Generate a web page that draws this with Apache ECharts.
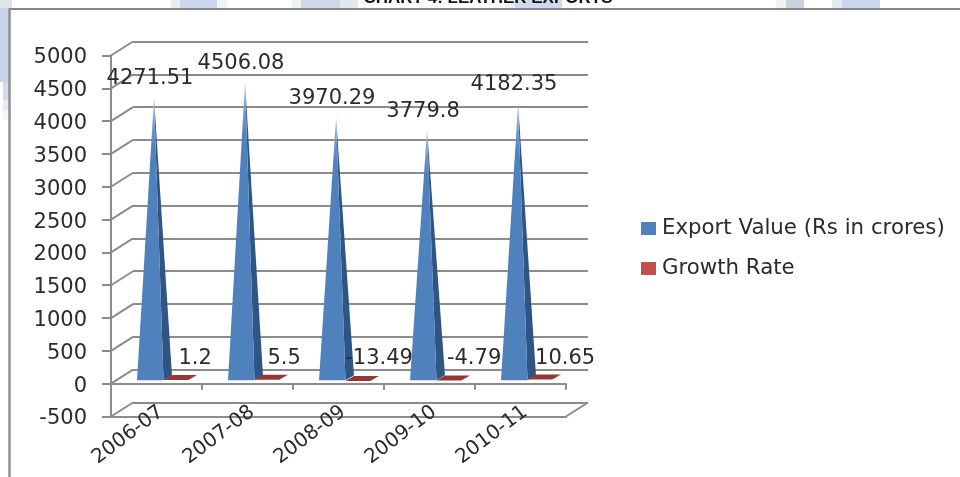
<!DOCTYPE html>
<html>
<head>
<meta charset="utf-8">
<title>Chart 4: Leather Exports</title>
<style>
  html, body { margin: 0; padding: 0; background: #fff; }
  #chart { width: 960px; height: 477px; }
</style>
<script src="https://cdn.jsdelivr.net/npm/echarts@6/dist/echarts.min.js"></script>
</head>
<body>
<div id="chart"></div>
<script>
// Leather export figures by financial year
const years = ['2006-07', '2007-08', '2008-09', '2009-10', '2010-11'];
const exportValue = [4271.51, 4506.08, 3970.29, 3779.8, 4182.35];
const growthRate = [1.2, 5.5, -13.49, -4.79, 10.65];
const exportLabels = ['4271.51', '4506.08', '3970.29', '3779.8', '4182.35'];
const growthLabels = ['1.2', '5.5', '-13.49', '-4.79', '10.65'];
const valueTicks = [-500, 0, 500, 1000, 1500, 2000, 2500, 3000, 3500, 4000, 4500, 5000];

// Horizontal placement tweaks for the growth labels, in pixels
const growthLabelNudge = [-6, -8, -4, 0, 0];

// Oblique depth of the 3D box, in pixels
const DEPTH_X = 22;
const DEPTH_Y = 14;
const AXIS_GREY = '#8c8c8c';
const AXIS_WIDTH = 2;
const TEXT = '#2b2b2b';
const FONT = '"DejaVu Sans", sans-serif';
const FONT_SIZE = 21;
const BLUE = '#4f81bd';
const BLUE_SIDE = '#2f5585';
const RED = '#c0504d';
const RED_TOP = '#953735';

const chart = echarts.init(document.getElementById('chart'), null, { renderer: 'canvas' });

const frontGrid = { left: 111, top: 55.5, width: 455, height: 361 };
const backGrid = {
  left: frontGrid.left + DEPTH_X,
  top: frontGrid.top - DEPTH_Y,
  width: frontGrid.width,
  height: frontGrid.height
};

// Pale page decoration showing around the frame
function paleBlock(x, y, w, h, fill) {
  return { type: 'rect', silent: true, z: -10, shape: { x, y, width: w, height: h }, style: { fill } };
}
const decoration = [
  paleBlock(0, 0, 12, 8, '#dde5ea'),
  paleBlock(0, 8, 9, 74, '#c9d6ea'),
  paleBlock(3, 82, 6, 18, '#cfdcec'),
  paleBlock(3, 100, 6, 10, '#e3ebf0'),
  paleBlock(3, 110, 6, 9, '#f2f7f4'),
  paleBlock(171, 0, 9, 8, '#e8eef0'),
  paleBlock(180, 0, 37, 8, '#c9d8ee'),
  paleBlock(217, 0, 10, 8, '#eef4f0'),
  paleBlock(292, 0, 9, 8, '#eef3f3'),
  paleBlock(301, 0, 39, 8, '#cdd8ea'),
  paleBlock(340, 0, 18, 8, '#e2e9ec'),
  paleBlock(505, 0, 10, 8, '#eaeef5'),
  paleBlock(515, 0, 47, 8, '#cfdaf0'),
  paleBlock(776, 0, 10, 8, '#eef4f2'),
  paleBlock(786, 0, 18, 8, '#c9d3e0'),
  paleBlock(832, 0, 10, 8, '#e3eaf2'),
  paleBlock(842, 0, 38, 8, '#c9d8ee')
];

// Outer frame of the embedded chart
const frame = [
  { type: 'line', silent: true, z: 1, shape: { x1: 9, y1: 9, x2: 960, y2: 9 }, style: { stroke: '#858585', lineWidth: 2 } },
  { type: 'line', silent: true, z: 1, shape: { x1: 9.5, y1: 8, x2: 9.5, y2: 477 }, style: { stroke: '#8f8f8f', lineWidth: 2.5 } }
];

// Slanted edges joining the front axis to the back wall, one per value tick
function renderDepthEdges(params, api) {
  const p = api.coord([0, api.value(0)]);
  const x = params.coordSys.x;
  return {
    type: 'line',
    shape: { x1: x, y1: p[1], x2: x + DEPTH_X, y2: p[1] - DEPTH_Y },
    style: { stroke: AXIS_GREY, lineWidth: AXIS_WIDTH, fill: null }
  };
}

// Right-hand edge of the floor under the chart
function renderFloorEdge(params, api) {
  const p = api.coord([0, api.value(0)]);
  const x = params.coordSys.x + params.coordSys.width;
  return {
    type: 'line',
    shape: { x1: x, y1: p[1], x2: x + DEPTH_X, y2: p[1] - DEPTH_Y },
    style: { stroke: AXIS_GREY, lineWidth: AXIS_WIDTH, fill: null }
  };
}

// Export value: a pyramid with a lit front face and a shaded side
function renderPyramid(params, api) {
  const i = api.value(0);
  const top = api.coord([i, api.value(1)]);
  const base = api.coord([i, 0]);
  const band = api.size([1, 0])[0];
  const cx = base[0];
  const left = cx - band * 0.214;
  const right = cx + band * 0.077;
  const back = cx + band * 0.17;
  const frontY = base[1] - 3.5;
  const backY = base[1] - 8.5;
  const apex = [cx - band * 0.027, top[1] - 6];
  const fade = new echarts.graphic.LinearGradient(0, 0, 0, 1, [
    { offset: 0, color: '#dbe6f2' },
    { offset: 0.06, color: '#86a8d2' },
    { offset: 0.18, color: BLUE },
    { offset: 1, color: BLUE }
  ]);
  return {
    type: 'group',
    children: [
      {
        type: 'polygon',
        shape: { points: [[right, frontY], [back, backY], apex] },
        style: { fill: BLUE_SIDE }
      },
      {
        type: 'polygon',
        shape: { points: [[left, frontY], [right, frontY], apex] },
        style: { fill: fade }
      },
      {
        type: 'text',
        z2: 20,
        style: {
          text: exportLabels[params.dataIndex],
          x: apex[0] - 4,
          y: apex[1] - 18.5,
          align: 'center',
          verticalAlign: 'middle',
          font: FONT_SIZE + 'px ' + FONT,
          fill: TEXT
        }
      }
    ]
  };
}

// Growth rate: so small on this scale that only the top of the bar shows
function renderSlab(params, api) {
  const i = api.value(0);
  const v = api.coord([i, api.value(1)]);
  const base = api.coord([i, 0]);
  const band = api.size([1, 0])[0];
  const cx = base[0];
  const frontY = v[1] - 3.5;
  const backY = v[1] - 8.5;
  return {
    type: 'group',
    children: [
      {
        type: 'polygon',
        shape: {
          points: [
            [cx + band * 0.077, frontY],
            [cx + band * 0.35, frontY],
            [cx + band * 0.445, backY],
            [cx + band * 0.17, backY]
          ]
        },
        style: { fill: RED_TOP }
      },
      {
        type: 'text',
        z2: 20,
        style: {
          text: growthLabels[params.dataIndex],
          x: cx + band * 0.49 + growthLabelNudge[params.dataIndex],
          y: base[1] - 25,
          align: 'center',
          verticalAlign: 'middle',
          font: FONT_SIZE + 'px ' + FONT,
          fill: TEXT
        }
      }
    ]
  };
}

const option = {
  animation: false,
  backgroundColor: '#ffffff',
  textStyle: { fontFamily: FONT },
  title: {
    text: 'CHART 4: LEATHER EXPORTS',
    left: 483,
    top: -15,
    textAlign: 'center',
    textStyle: { fontFamily: '"Liberation Sans", sans-serif', fontSize: 17, fontWeight: 'bold', color: '#111' }
  },
  legend: {
    orient: 'vertical',
    left: 636,
    top: 213,
    itemWidth: 15,
    itemHeight: 13,
    itemGap: 19,
    icon: 'rect',
    selectedMode: false,
    data: ['Export Value (Rs in crores)', 'Growth Rate'],
    textStyle: { fontSize: 21.3, color: TEXT, fontFamily: FONT, padding: [0, 0, 0, 1] }
  },
  graphic: { elements: decoration.concat(frame) },
  grid: [
    Object.assign({ containLabel: false }, frontGrid),
    Object.assign({ containLabel: false }, backGrid)
  ],
  xAxis: [
    {
      // Year labels and the front edge of the floor, at the bottom of the scale
      type: 'category',
      gridIndex: 0,
      data: years,
      position: 'bottom',
      axisLine: { onZero: false, lineStyle: { color: AXIS_GREY, width: AXIS_WIDTH } },
      axisTick: { show: false },
      axisLabel: { rotate: 37, interval: 0, margin: -3, padding: [0, -6, 0, 0], fontSize: 20, color: TEXT, fontFamily: FONT },
      splitLine: { show: false }
    },
    {
      // Zero line with its category ticks
      type: 'category',
      gridIndex: 0,
      data: years,
      position: 'bottom',
      axisLine: { onZero: true, lineStyle: { color: AXIS_GREY, width: AXIS_WIDTH } },
      axisTick: { show: true, inside: false, length: 6, lineStyle: { color: AXIS_GREY, width: AXIS_WIDTH } },
      axisLabel: { show: false },
      splitLine: { show: false }
    },
    {
      // Back wall
      type: 'category',
      gridIndex: 1,
      data: years,
      axisLine: { show: false },
      axisTick: { show: false },
      axisLabel: { show: false },
      splitLine: { show: false }
    }
  ],
  yAxis: [
    {
      type: 'value',
      gridIndex: 0,
      min: -500,
      max: 5000,
      interval: 500,
      axisLine: { show: true, lineStyle: { color: AXIS_GREY, width: AXIS_WIDTH } },
      axisTick: { show: true, length: 9, lineStyle: { color: AXIS_GREY, width: AXIS_WIDTH } },
      axisLabel: { margin: 24, verticalAlign: 'top', lineHeight: 5, fontSize: FONT_SIZE, color: TEXT, fontFamily: FONT, formatter: (v) => String(v) },
      splitLine: { show: false }
    },
    {
      type: 'value',
      gridIndex: 1,
      min: -500,
      max: 5000,
      interval: 500,
      axisLine: { show: false },
      axisTick: { show: false },
      axisLabel: { show: false },
      splitLine: { show: true, lineStyle: { color: AXIS_GREY, width: AXIS_WIDTH } }
    }
  ],
  series: [
    {
      type: 'custom',
      silent: true,
      xAxisIndex: 0,
      yAxisIndex: 0,
      z: 1,
      renderItem: renderDepthEdges,
      encode: { y: 0 },
      data: valueTicks.map((t) => [t])
    },
    {
      type: 'custom',
      silent: true,
      xAxisIndex: 0,
      yAxisIndex: 0,
      z: 1,
      renderItem: renderFloorEdge,
      encode: { y: 0 },
      data: [[valueTicks[0]]]
    },
    {
      name: 'Export Value (Rs in crores)',
      type: 'custom',
      xAxisIndex: 0,
      yAxisIndex: 0,
      z: 5,
      itemStyle: { color: BLUE },
      renderItem: renderPyramid,
      encode: { x: 0, y: 1 },
      data: exportValue.map((v, i) => [i, v])
    },
    {
      name: 'Growth Rate',
      type: 'custom',
      xAxisIndex: 0,
      yAxisIndex: 0,
      z: 6,
      itemStyle: { color: RED },
      renderItem: renderSlab,
      encode: { x: 0, y: 1 },
      data: growthRate.map((v, i) => [i, v])
    }
  ]
};

chart.setOption(option);
</script>
</body>
</html>
